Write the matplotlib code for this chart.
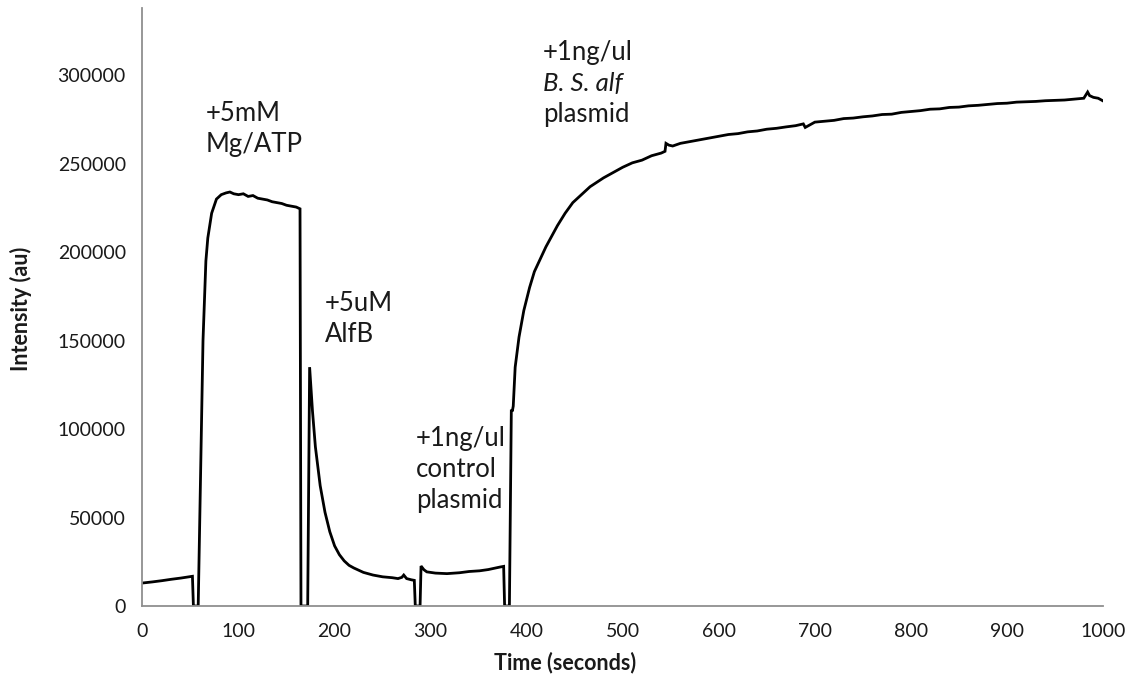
import matplotlib
matplotlib.use("Agg")
import matplotlib.pyplot as plt

# ------------------------------------------------------------
# Data (time in s, intensity in au)
# ------------------------------------------------------------
time_s = [
    0, 10, 20, 30, 40, 52, 53, 58, 60, 63, 66, 68, 72, 77, 82, 87, 91, 95,
    100, 105, 110, 115, 120, 125, 130, 135, 140, 145, 150, 155, 160, 164,
    165, 172, 174, 177, 180, 185, 190, 195, 200, 205, 210, 215, 220, 230,
    240, 250, 260, 266, 270, 272, 275, 280, 283, 284, 289, 290, 293, 296,
    305, 317, 330, 340, 351, 360, 372, 376, 377, 382, 384, 385, 386, 388,
    392, 397, 403, 408, 414, 420, 425, 432, 440, 448, 457, 466, 473, 480,
    490, 500, 510, 520, 530, 540, 544, 545, 548, 552, 560, 570, 580, 590,
    600, 610, 620, 630, 640, 650, 660, 670, 680, 688, 690, 700, 710, 720,
    730, 740, 750, 760, 770, 780, 790, 800, 810, 820, 830, 840, 850, 860,
    870, 880, 890, 900, 910, 920, 930, 940, 950, 960, 970, 980, 984, 986,
    990, 995, 1000,
]
intensity = [
    13000, 13600, 14300, 15100, 15800, 16800, 0, 0, 60000, 150000, 195000,
    208000, 222000, 230000, 232500, 233500, 234000, 233000, 232500, 233000,
    231500, 232000, 230500, 230000, 229500, 228500, 228000, 227500, 226500,
    226000, 225500, 224500, 0, 0, 135000, 110000, 90000, 68000, 53000,
    42000, 34000, 29000, 25500, 23000, 21500, 19000, 17500, 16500, 16000,
    15500, 16200, 17500, 15500, 14800, 14500, 0, 0, 22600, 20500, 19300,
    18600, 18300, 18800, 19500, 19900, 20600, 22000, 22400, 0, 0, 111000,
    110000, 113000, 135000, 152000, 167000, 180000, 189000, 196000, 203000,
    208000, 215000, 222000, 228000, 232500, 237000, 239500, 242000, 245000,
    248000, 250500, 252000, 254500, 256000, 257000, 261500, 260500, 260000,
    261500, 262500, 263500, 264500, 265500, 266500, 267000, 268000, 268500,
    269500, 270000, 270800, 271500, 272500, 270500, 273500, 274000, 274500,
    275500, 275800, 276500, 277000, 277800, 278000, 279000, 279500, 280000,
    280800, 281000, 281800, 282000, 282700, 283000, 283500, 284000, 284200,
    284800, 285000, 285200, 285600, 285800, 286000, 286500, 287000, 290500,
    288500, 287500, 287000, 285500,
]

x_ticks = [0, 100, 200, 300, 400, 500, 600, 700, 800, 900, 1000]
y_ticks = [0, 50000, 100000, 150000, 200000, 250000, 300000]

# annotation labels: (left time, first baseline intensity, lines, italic flags)
annotations = [
    (66, 274000, ["+5mM", "Mg/ATP"], [False, False]),
    (190, 167000, ["+5uM", "AlfB"], [False, False]),
    (285, 90600, ["+1ng/ul", "control", "plasmid"], [False, False, False]),
    (417, 308600, ["+1ng/ul", "B. S. alf", "plasmid"], [False, True, False]),
]

FONT = ["Lato", "DejaVu Sans"]
SPINE_COLOR = "#8f8f8f"
TEXT_COLOR = "#1a1a1a"
LINE_STEP = 17500  # vertical spacing between annotation lines, in data units

plt.rcParams["font.family"] = FONT

fig = plt.figure(figsize=(11.39, 6.79), dpi=100)
ax = fig.add_axes([0.1251, 0.1075, 0.8433, 0.8807])

ax.plot(time_s, intensity, color="black", linewidth=2.0, solid_joinstyle="miter")

ax.set_xlim(0, 1000)
ax.set_ylim(0, 338000)
ax.set_xticks(x_ticks)
ax.set_yticks(y_ticks)
ax.set_xticklabels([str(v) for v in x_ticks])
ax.set_yticklabels([str(v) for v in y_ticks])
ax.tick_params(length=0, labelsize=14, colors=TEXT_COLOR, pad=12)

for side in ["top", "right"]:
    ax.spines[side].set_visible(False)
for side in ["left", "bottom"]:
    ax.spines[side].set_color(SPINE_COLOR)
    ax.spines[side].set_linewidth(1.3)

for x0, y_base, lines, italics in annotations:
    for i, (line, ital) in enumerate(zip(lines, italics)):
        ax.text(
            x0, y_base - i * LINE_STEP, line,
            fontsize=18.5, color=TEXT_COLOR, va="baseline", ha="left",
            style="italic" if ital else "normal",
        )

fig.text(0.018, 0.545, "Intensity (au)", rotation=90, fontsize=15.5,
         fontweight="bold", va="center", ha="center", color=TEXT_COLOR)
fig.text(0.496, 0.025, "Time (seconds)", fontsize=15.5, fontweight="bold",
         va="center", ha="center", color=TEXT_COLOR)

fig.savefig("out.png", dpi=100)
